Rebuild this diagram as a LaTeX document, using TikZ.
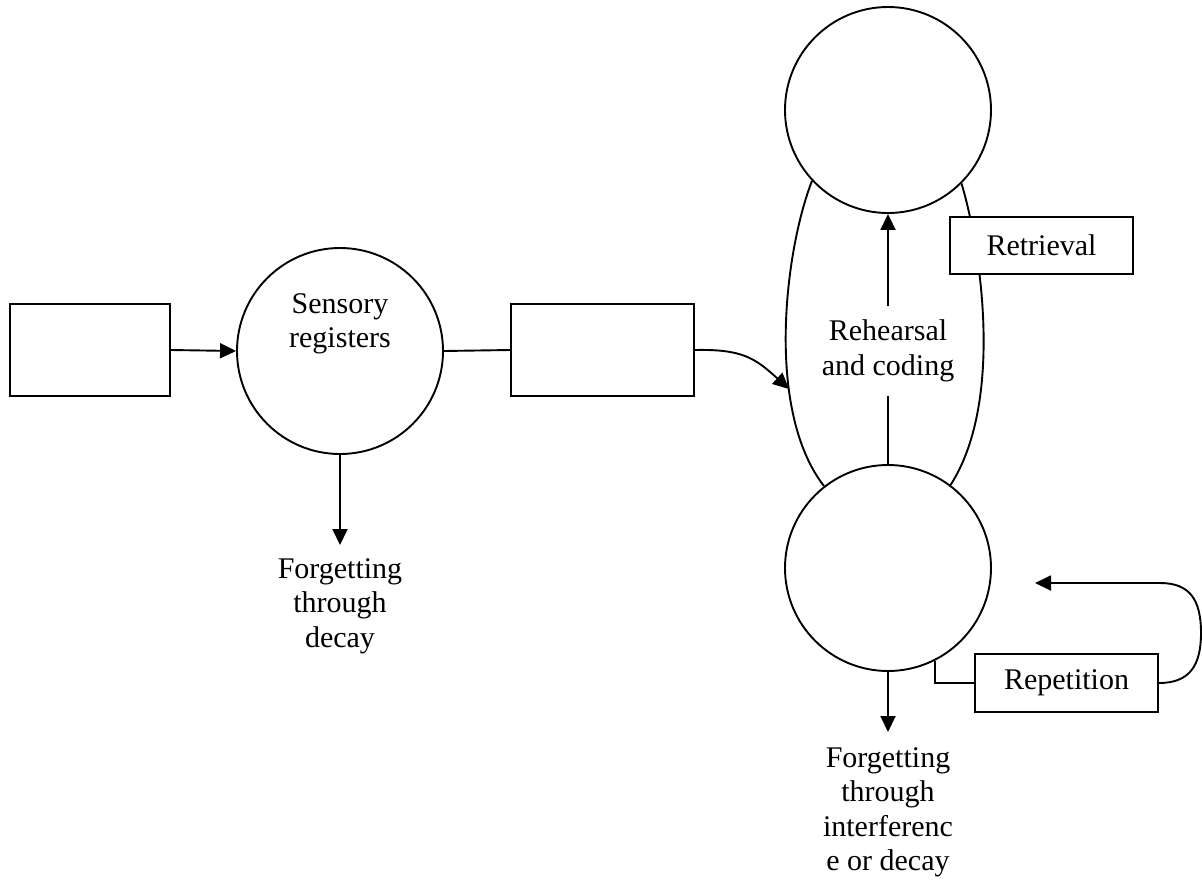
\documentclass[tikz,border=0pt]{standalone}
\usepackage{fontspec}
\setmainfont{Liberation Serif}
\usetikzlibrary{arrows.meta}
\begin{document}
\begin{tikzpicture}[x=1pt,y=-1pt,
  every node/.style={font=\fontsize{30}{34.5}\selectfont},
  conn/.style={line width=1.9pt},
  arr/.style={line width=1.9pt,-{Triangle[length=16pt,width=15pt]}},
  box/.style={draw,line width=1.9pt,fill=white,inner sep=0pt},
  circ/.style={draw,circle,line width=1.9pt,minimum size=206pt,inner sep=0pt},
  lbl/.style={align=center,inner sep=0pt}]
\useasboundingbox (0,0) rectangle (1202,879);
% boxes and circles
\node[box,minimum width=160pt,minimum height=92pt] (in) at (90,350) {};
\node[box,minimum width=183pt,minimum height=92pt] (mid) at (602.5,350) {};
\node[circ] (sens) at (340,351) {};
\node[lbl] (senst) at (340,324) {Sensory\\registers};
\node[circ] (top) at (888,110) {};
\node[circ] (bot) at (888,568) {};
\node[lbl,minimum height=90pt] (reh) at (888,351) {Rehearsal\\and coding};
% lens curves
\draw[conn] (top.-137.3) .. controls (785,250) and (765,410) .. (bot.128);
\draw[conn] (top.-45.4) .. controls (980,245) and (1005,400) .. (bot.53.9);
\node[box,minimum width=183pt,minimum height=57pt] (ret) at (1041.5,245.5) {Retrieval};
\node[box,minimum width=183pt,minimum height=58pt] (rep) at (1066.5,683) {Repetition};
\node[lbl,anchor=north,inner ysep=13pt] (f1) at (340,545) {Forgetting\\through\\decay};
\node[lbl,anchor=north,inner ysep=15pt] (f2) at (888,732) {Forgetting\\through\\interferenc\\e or decay};
% connectors
\draw[arr] (in.east) -- (sens.west);
\draw[conn] (sens.east) -- (mid.west);
\draw[arr] (sens.south) -- (f1.north);
\coordinate (stm) at (789,389);
\draw[arr] (mid.east) .. controls (742,349) and (755,358) .. (stm);
\draw[conn] (bot.north) -- (reh.south);
\draw[arr] (reh.north) -- (top.south);
\draw[arr] (bot.south) -- (f2.north);
\draw[conn] (bot.-63.7) |- (rep.west);
\coordinate (reptip) at (1035,583);
\draw[arr] (rep.east) .. controls (1190,683) and (1201,665) .. (1201,633) .. controls (1201,600) and (1190,583) .. (1160,583) -- (reptip);
\end{tikzpicture}
\end{document}
